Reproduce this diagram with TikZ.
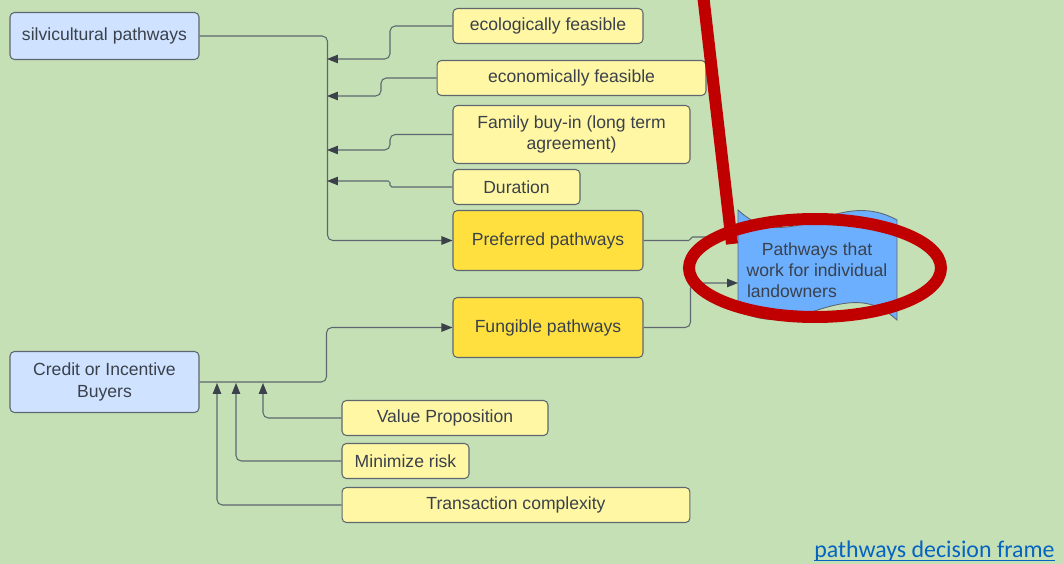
\documentclass[tikz,border=0pt]{standalone}
\usepackage{fontspec}
\setmainfont{Liberation Sans}
\newfontfamily\linkfont{Carlito}
\usetikzlibrary{arrows.meta}
\definecolor{cBg}{HTML}{C5E0B4}
\definecolor{cSrc}{HTML}{CFE2FF}
\definecolor{cFct}{HTML}{FFF7A3}
\definecolor{cKey}{HTML}{FFE03F}
\definecolor{cGoal}{HTML}{6CAFFF}
\definecolor{cLine}{HTML}{5E6770}
\definecolor{cText}{HTML}{3A414B}
\definecolor{cMark}{HTML}{C00000}
\definecolor{cLink}{HTML}{0563C1}
\tikzset{
    box/.style={draw=cLine, line width=0.6pt, rounded corners=2.5pt, align=center,
                text=cText, inner sep=2pt, minimum height=0.7cm},
    src/.style={box, fill=cSrc, minimum width=3.78cm},
    fct/.style={box, fill=cFct},
    key/.style={box, fill=cKey, minimum width=3.8cm, minimum height=1.2cm},
    link/.style={draw=cLine, line width=0.6pt, rounded corners=3pt,
                 -{Triangle[length=2.2mm, width=1.7mm, color=cText]}},
    hl/.style={draw=cMark, line width=0.24cm, line cap=butt},
}

\begin{document}
\begin{tikzpicture}[x=0.02cm, y=-0.02cm, font=\fontsize{10}{12}\selectfont]

\fill[cBg] (0,0) rectangle (1063,564);
\useasboundingbox (0,0) rectangle (1063,564);

% sources
\node[src, minimum height=0.94cm] (silv)  at (104.5,36)  {silvicultural pathways};
\node[src, minimum height=1.22cm] (buyer) at (104.5,382) {Credit or Incentive\\Buyers};

% outcomes
\node[key] (pref) at (548,240.5) {Preferred pathways};
\node[key] (fung) at (548,327.5) {Fungible pathways};

% factors
\node[fct, minimum width=3.8cm]  (eco)   at (548,26)  {ecologically feasible};
\node[fct, minimum width=5.38cm] (econ)  at (571.5,78) {economically feasible};
\node[fct, minimum width=4.74cm, minimum height=1.16cm] (fam) at (571.5,134.5)
    {Family buy-in (long term\\agreement)};
\node[fct, minimum width=2.54cm] (dur)   at (516.5,187) {Duration};
\node[fct, minimum width=4.12cm] (val)   at (445,418) {Value Proposition};
\node[fct, minimum width=2.54cm] (risk)  at (405.5,461) {Minimize risk};
\node[fct, minimum width=6.96cm] (trans) at (516,505) {Transaction complexity};

% goal
\draw[draw=cLine, line width=0.5pt, fill=cGoal]
    (738,210) .. controls (760,230) and (780,232) .. (817.5,220)
    .. controls (845,210) and (870,205) .. (897,220) -- (897,320)
    .. controls (875,300) and (855,298) .. (817.5,310)
    .. controls (790,320) and (765,325) .. (738,310) -- cycle;
\node[text=cText, align=center, inner sep=0pt] (goal) at (817,270)
    {Pathways that\\work for individual\\\makebox[2.8cm][l]{landowners}};

% trunks
\draw[link] (silv.east) -- ++(128,0) |- (pref.west);
\draw[link] (buyer.east) -- ++(127,0) |- (fung.west);

\foreach \nm/\jx/\ty in {eco/390/59, econ/381/96, fam/390/150}{%
    \coordinate (in-\nm) at (327,\ty);
    \draw[link] (\nm.west) -| (\jx,\ty) -- (in-\nm);
}
\coordinate (in-dur) at (327,181);
\draw[link, rounded corners=1pt] (dur.west) -| (390,181) -- (in-dur);

\foreach \nm/\bx in {val/263, risk/236, trans/217}{%
    \coordinate (up-\nm) at (\bx,383);
    \draw[link] (\nm.west) -| (up-\nm);
}

\coordinate (g1) at (738,237);
\coordinate (g2) at (738,283);
\draw[link, rounded corners=1pt] (pref.east) -- ++(47,0) |- (g1);
\draw[link] (fung.east) -- ++(47,0) |- (g2);

% highlight
\draw[hl] (703,-6) -- (732,244);
\draw[hl] (815,268) ellipse [x radius=2.52cm, y radius=0.98cm];

\node[anchor=base east, text=cLink, inner sep=0pt,
      font=\linkfont\fontsize{13.6}{16}\selectfont] (frame) at (1055,557.5)
    {pathways decision frame};
\draw[cLink, line width=0.85pt] ([yshift=-0.065cm]frame.base west)
    -- ([yshift=-0.065cm]frame.base east);

\end{tikzpicture}
\end{document}
